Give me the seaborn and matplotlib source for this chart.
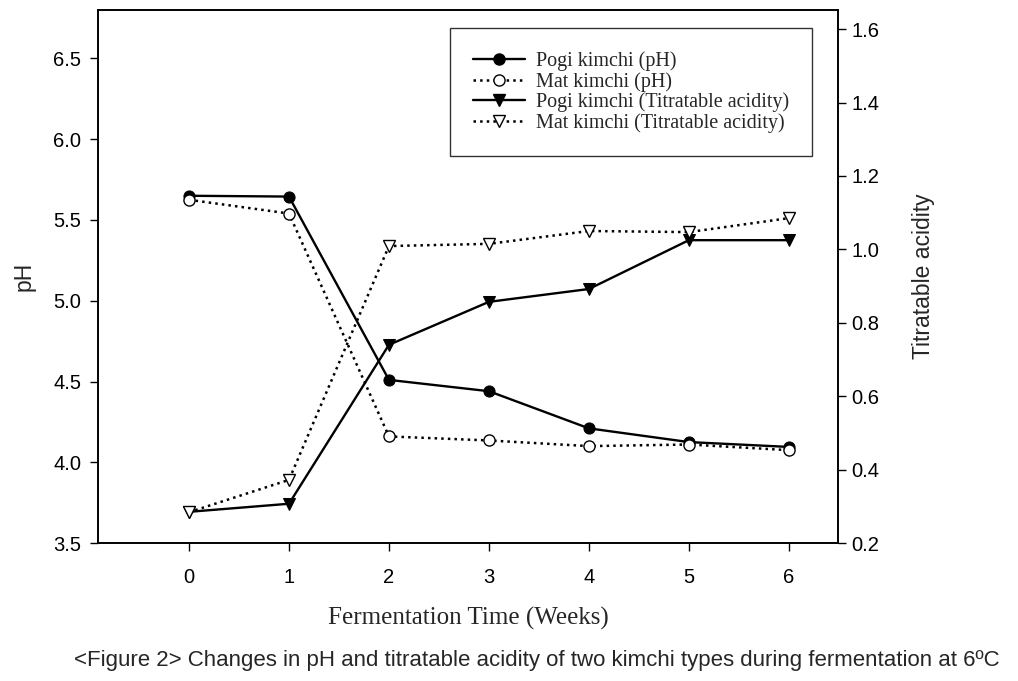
import numpy as np
import pandas as pd
import matplotlib
matplotlib.use('Agg')
import matplotlib.pyplot as plt
import seaborn as sns
from matplotlib.lines import Line2D

# Weeks of fermentation
weeks = [0, 1, 2, 3, 4, 5, 6]

# pH values
pogi_ph = [5.65, 5.645, 4.51, 4.44, 4.21, 4.125, 4.095]
mat_ph = [5.625, 5.54, 4.16, 4.135, 4.10, 4.11, 4.075]

# Titratable acidity values
pogi_ta = [0.285, 0.307, 0.74, 0.857, 0.892, 1.025, 1.025]
mat_ta = [0.284, 0.372, 1.009, 1.015, 1.05, 1.047, 1.085]

ph_ticks = [3.5, 4.0, 4.5, 5.0, 5.5, 6.0, 6.5]
ta_ticks = [0.2, 0.4, 0.6, 0.8, 1.0, 1.2, 1.4, 1.6]

sns.set_style('ticks')
plt.rcParams['font.family'] = ['Liberation Sans', 'DejaVu Sans']

df = pd.DataFrame({'week': weeks, 'pogi_ph': pogi_ph, 'mat_ph': mat_ph,
                   'pogi_ta': pogi_ta, 'mat_ta': mat_ta})

fig = plt.figure(figsize=(10.18, 6.81), dpi=100)
ax = fig.add_axes([0.0963, 0.2026, 0.7267, 0.7827])
ax2 = ax.twinx()

ms = 8
sns.lineplot(data=df, x='week', y='pogi_ph', ax=ax, color='black', lw=1.7,
             marker='o', markersize=ms, markerfacecolor='black', markeredgecolor='black')
sns.lineplot(data=df, x='week', y='mat_ph', ax=ax, color='black', lw=1.8, linestyle=':',
             marker='o', markersize=ms, markerfacecolor='white', markeredgecolor='black',
             markeredgewidth=1.0)
sns.lineplot(data=df, x='week', y='pogi_ta', ax=ax2, color='black', lw=1.7,
             marker='v', markersize=ms + 1, markerfacecolor='black', markeredgecolor='black')
sns.lineplot(data=df, x='week', y='mat_ta', ax=ax2, color='black', lw=1.8, linestyle=':',
             marker='v', markersize=ms + 1, markerfacecolor='white', markeredgecolor='black',
             markeredgewidth=1.0)

ax.set_xlim(-0.91, 6.49)
ax.set_ylim(3.5, 6.8)
ax2.set_ylim(0.2, 1.652)
ax.set_xticks(weeks)
ax.set_yticks(ph_ticks)
ax2.set_yticks(ta_ticks)
ax.set_yticklabels([f'{t:.1f}' for t in ph_ticks])
ax2.set_yticklabels([f'{t:.1f}' for t in ta_ticks])

for a in (ax, ax2):
    for s in a.spines.values():
        s.set_linewidth(1.2)
        s.set_color('black')
    a.tick_params(direction='out', length=6, width=1.0, labelsize=14.5, colors='black')
ax.tick_params(axis='x', pad=12)
ax.tick_params(axis='y', pad=6)

ax.set_xlabel('Fermentation Time (Weeks)', family=['Liberation Serif'], fontsize=18, labelpad=14)
ax.set_ylabel('pH', fontsize=16.5, labelpad=13)
ax2.set_ylabel('Titratable acidity', fontsize=16.5, labelpad=24)

handles = [
    Line2D([], [], color='black', lw=1.7, marker='o', markersize=ms, markerfacecolor='black'),
    Line2D([], [], color='black', lw=1.8, ls=':', marker='o', markersize=ms, markerfacecolor='white'),
    Line2D([], [], color='black', lw=1.7, marker='v', markersize=ms + 1, markerfacecolor='black'),
    Line2D([], [], color='black', lw=1.8, ls=':', marker='v', markersize=ms + 1, markerfacecolor='white'),
]
labels = ['Pogi kimchi (pH)', 'Mat kimchi (pH)',
          'Pogi kimchi (Titratable acidity)', 'Mat kimchi (Titratable acidity)']
leg = ax.legend(handles, labels, loc='upper right', bbox_to_anchor=(0.9649, 0.9662),
                borderaxespad=0, prop={'family': 'Liberation Serif', 'size': 14.5},
                frameon=True, fancybox=False, edgecolor='black', handlelength=2.6,
                borderpad=1.15, labelspacing=0.05, handletextpad=0.5)
leg.get_frame().set_linewidth(1.0)

fig.text(0.527, 0.03, '<Figure 2> Changes in pH and titratable acidity of two kimchi types during fermentation at 6\u00baC',
         ha='center', va='center', fontsize=16,
         family=['Liberation Sans Narrow', 'Liberation Sans', 'DejaVu Sans'])

fig.savefig('out.png', dpi=100)
